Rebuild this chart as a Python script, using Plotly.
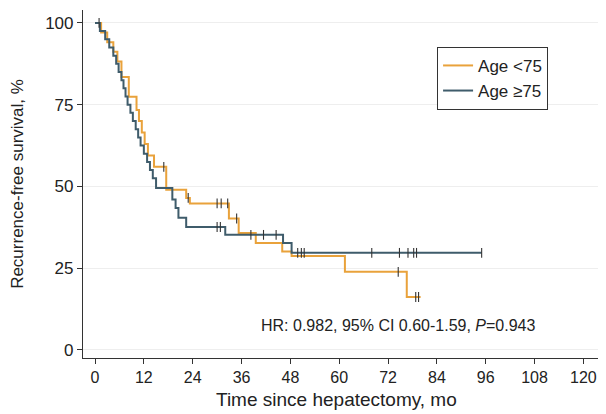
import numpy as np
import plotly.graph_objects as go

# ---- data ----
young_times = [0, 1.5, 3, 4.5, 5.5, 6.5, 8.3, 10.2, 10.8, 11.5, 12.2, 13.0, 14.5, 17.5, 22.4, 23.3, 32.9, 35.3, 39.5, 46.0, 48.3, 61.4, 76.6]
young_surv = [100, 97.1, 94.1, 91.2, 88.2, 83.5, 77.4, 73.4, 70.0, 66.5, 63.0, 59.5, 56.0, 49.0, 46.5, 44.8, 40.2, 35.8, 32.7, 30.1, 28.7, 23.9, 16.2]
young_end = 80.0
young_censor = [16.9, 22.9, 30.0, 31.0, 32.6, 34.8, 74.5, 78.8, 79.5]

old_times = [0, 1.2, 2.5, 3.5, 4.5, 5.2, 5.8, 6.5, 7.0, 7.5, 8.0, 8.7, 9.3, 10.0, 10.6, 11.2, 12.0, 12.8, 13.5, 14.2, 15.0, 19.0, 19.8, 20.5, 22.4, 32.0, 46.2, 48.3]
old_surv = [100, 97.5, 95.0, 92.5, 90.0, 87.5, 85.0, 82.5, 80.0, 77.5, 75.0, 72.5, 70.0, 67.5, 65.0, 62.5, 60.0, 57.5, 55.0, 52.5, 49.5, 46.0, 43.4, 40.4, 37.6, 35.2, 32.7, 29.7]
old_end = 95.0
old_censor = [1.0, 30.0, 30.8, 38.3, 41.4, 44.5, 49.8, 50.7, 51.4, 68.0, 74.8, 76.9, 78.3, 79.0, 95.0]

series_names = ["Age <75", "Age \u226575"]
colors = ["#E9A23B", "#3F5C6B"]

x_ticks = [0, 12, 24, 36, 48, 60, 72, 84, 96, 108, 120]
y_ticks = [0, 25, 50, 75, 100]

FONT = "Arial, Liberation Sans, sans-serif"

fig = go.Figure()

def add_km(times, surv, end, censor, name, color):
    t = list(times) + [end]
    s = list(surv) + [surv[-1]]
    fig.add_trace(go.Scatter(x=t, y=s, mode="lines", line=dict(shape="hv", color=color, width=2),
                             name=name, showlegend=True))
    ta = np.array(times)
    idx = np.searchsorted(ta, np.array(censor), side="right") - 1
    cy = [surv[i] for i in idx]
    fig.add_trace(go.Scatter(x=censor, y=cy, mode="markers",
                             marker=dict(symbol="line-ns", size=7, line=dict(color="#333333", width=1.1)),
                             showlegend=False, hoverinfo="skip"))

add_km(young_times, young_surv, young_end, young_censor, series_names[0], colors[0])
add_km(old_times, old_surv, old_end, old_censor, series_names[1], colors[1])

fig.add_annotation(x=74.5, y=7.6, xref="x", yref="y",
                   text="HR: 0.982, 95% CI 0.60-1.59, <i>P</i>=0.943",
                   showarrow=False, font=dict(family=FONT, size=16, color="#222222"))

# x-axis title (as an annotation so it can sit where the reference puts it)
fig.add_annotation(x=0.484, y=-0.118, xref="paper", yref="paper", xanchor="center", yanchor="middle",
                   text="Time since hepatectomy, mo", showarrow=False,
                   font=dict(family=FONT, size=19, color="#222222"))

# page body has an 8px margin; the figure is sized to fit the rest of the window
fig.update_layout(
    width=598, height=406,
    margin=dict(l=75, r=0, t=2, b=56, autoexpand=False),
    paper_bgcolor="white", plot_bgcolor="white",
    font=dict(family=FONT, size=17, color="#222222"),
    legend=dict(x=0.677, y=0.894, xanchor="left", yanchor="top",
                bordercolor="#333333", borderwidth=1, bgcolor="white",
                font=dict(family=FONT, size=17, color="#222222"),
                itemwidth=30, tracegroupgap=0),
    showlegend=True,
)
fig.update_xaxes(range=[-2.95, 125.55], tickvals=x_ticks, ticktext=[str(v) for v in x_ticks],
                 automargin=False,
                 showline=True, linecolor="#333333", linewidth=1.2,
                 ticks="outside", ticklen=5, tickcolor="#333333",
                 showgrid=False, zeroline=False,
                 tickfont=dict(size=16))
fig.update_yaxes(range=[-2.45, 103.95], tickvals=y_ticks, ticktext=[str(v) for v in y_ticks],
                 automargin=False,
                 showline=True, linecolor="#333333", linewidth=1.2,
                 ticks="outside", ticklen=5, tickcolor="#333333",
                 showgrid=True, gridcolor="#EEEEEE", gridwidth=1, zeroline=False,
                 title=dict(text="Recurrence-free survival, %", font=dict(size=17), standoff=18),
                 tickfont=dict(size=17))

fig.write_html("out.html")
